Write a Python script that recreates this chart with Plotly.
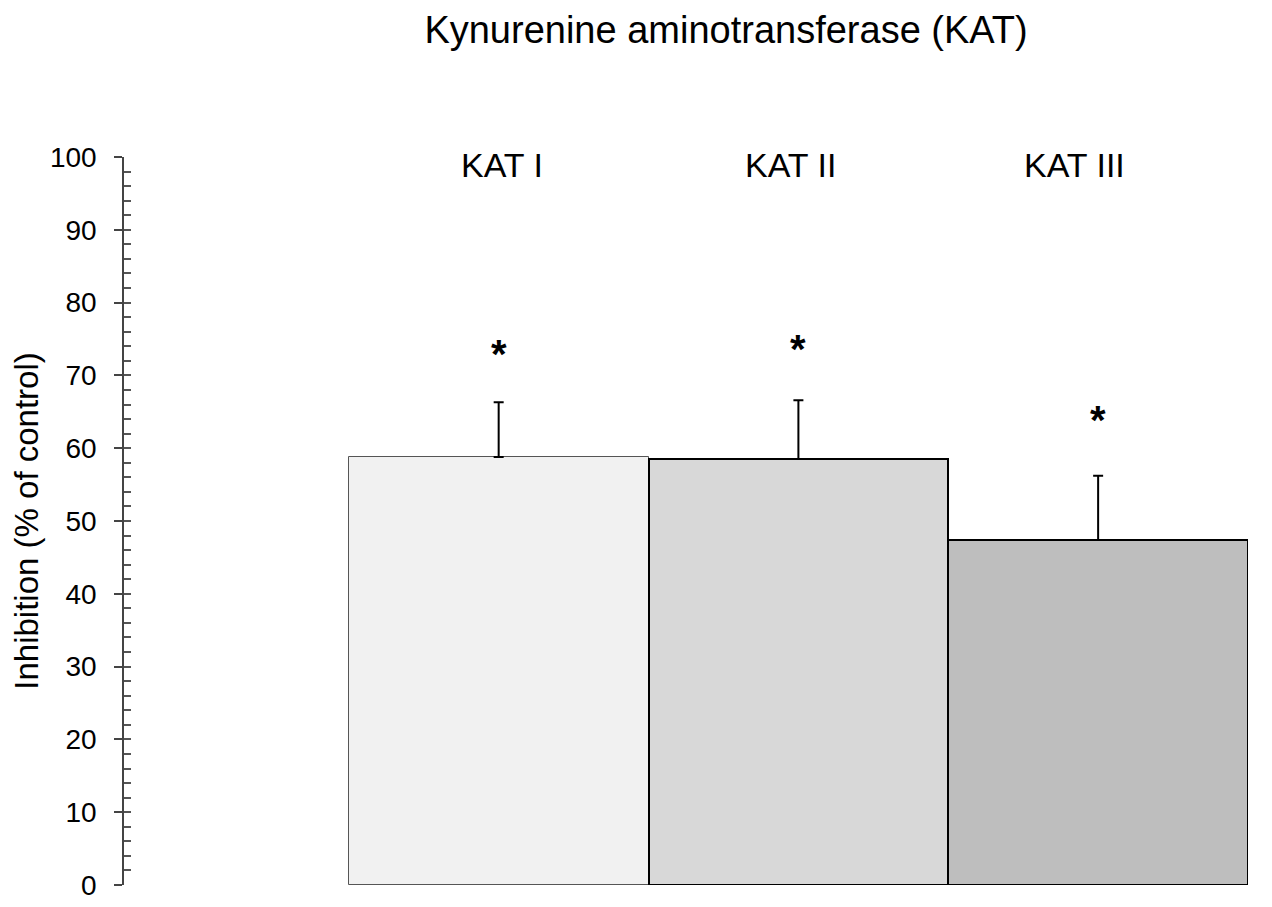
import plotly.graph_objects as go

categories = ["KAT I", "KAT II", "KAT III"]
values = [58.8, 58.5, 47.4]
errors = [7.5, 8.1, 8.8]
star_y = [73.5, 74.2, 64.4]
colors = ["#f1f1f1", "#d8d8d8", "#bebebe"]
line_colors = ["#555555", "#000000", "#000000"]
line_widths = [1, 2, 2]
label_shift = [3, -8, -24]
y_ticks = [0, 10, 20, 30, 40, 50, 60, 70, 80, 90, 100]

FONT = "Liberation Sans, Arial, sans-serif"

fig = go.Figure()
xs = list(range(len(categories)))
for i, c in enumerate(categories):
    fig.add_trace(go.Bar(
        x=[xs[i]], y=[values[i]], width=1,
        marker=dict(color=colors[i], line=dict(color=line_colors[i], width=line_widths[i])),
        error_y=dict(type="data", array=[errors[i]], arrayminus=[0], symmetric=False,
                     color="black", thickness=2, width=5),
        showlegend=False, name=c,
    ))

# invisible trace for minor ticks axis
fig.add_trace(go.Scatter(x=[None], y=[None], yaxis="y2", showlegend=False))

for i, c in enumerate(categories):
    fig.add_annotation(x=xs[i], y=98.9, text=c, showarrow=False, xshift=label_shift[i],
                       font=dict(family=FONT, size=34, color="black"), yanchor="middle")
    fig.add_annotation(x=xs[i], y=star_y[i], text="<b>*</b>", showarrow=False,
                       font=dict(family=FONT, size=40, color="black"), yanchor="middle", yshift=-4)

fig.update_layout(
    width=1256, height=899,
    paper_bgcolor="white", plot_bgcolor="white",
    margin=dict(l=116, r=16, t=149, b=22),
    bargap=0,
    title=dict(text="Kynurenine aminotransferase (KAT)", x=0.5717, xanchor="center",
               y=1 - 22 / 899, yanchor="middle", font=dict(family=FONT, size=38, color="black"),
               automargin=False),
    xaxis=dict(range=[-1.25, 2.5], showgrid=False, zeroline=False, showline=False,
               showticklabels=False, ticks="", automargin=False),
    yaxis=dict(range=[0, 100], tickvals=y_ticks, showgrid=False, zeroline=False,
               showline=True, linecolor="#444444", linewidth=1.5,
               ticks="outside", ticklen=8, tickwidth=1.5, tickcolor="#444444",
               ticklabelstandoff=12, ticklabeloverflow="allow", automargin=False,
               tickfont=dict(family=FONT, size=28, color="black"),
               title=dict(text="Inhibition (% of control)", standoff=12,
                          font=dict(family=FONT, size=33, color="black"))),
    yaxis2=dict(range=[0, 100], overlaying="y", side="left", anchor="x",
                showgrid=False, zeroline=False, showline=False, showticklabels=False,
                automargin=False,
                dtick=2, tick0=0, ticks="inside", ticklen=7, tickwidth=1.5, tickcolor="#555555"),
)

fig.write_html("out.html")
